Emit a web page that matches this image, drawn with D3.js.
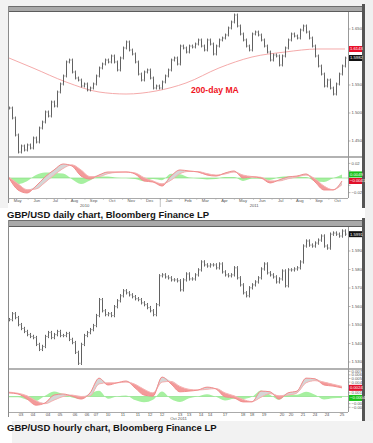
<!DOCTYPE html>
<html>
<head>
<meta charset="UTF-8">
<title>GBP/USD charts</title>
<script src="https://cdn.jsdelivr.net/npm/d3@7"></script>
<style>
  body { margin: 0; background: #fff; }
  svg { display: block; font-family: "Liberation Sans", Arial, sans-serif; }
</style>
</head>
<body>
<svg id="chart" width="373" height="443"></svg>
<script>
// ---- daily chart, May 2010 - Oct 2011 (closes read every ~5 days) ----
const dailyClose = [
  1.5089, 1.4911, 1.4607, 1.4303, 1.4411, 1.4339, 1.4429, 1.4375, 1.4554, 1.4482,
  1.4732, 1.4839, 1.5018, 1.4946, 1.5196, 1.5125, 1.5375, 1.5518, 1.5661, 1.5911,
  1.5946, 1.5732, 1.5625, 1.5589, 1.5482, 1.5518, 1.5411, 1.5446, 1.5518, 1.5661,
  1.5804, 1.5875, 1.5946, 1.5911, 1.6018, 1.5911, 1.5768, 1.5982, 1.6161, 1.6268,
  1.6125, 1.6054, 1.5911, 1.5696, 1.5589, 1.5732, 1.5768, 1.5625, 1.5446, 1.5482,
  1.5446, 1.5554, 1.5661, 1.5768, 1.5946, 1.5982, 1.5875, 1.6196, 1.6161, 1.6089,
  1.6196, 1.6179, 1.6232, 1.6304, 1.6196, 1.6125, 1.6304, 1.6232, 1.6054, 1.6196,
  1.6304, 1.6339, 1.6393, 1.6518, 1.6625, 1.6750, 1.6554, 1.6411, 1.6304, 1.6196,
  1.6125, 1.6411, 1.6446, 1.6393, 1.6304, 1.6196, 1.6089, 1.5946, 1.6036, 1.6018,
  1.5857, 1.6018, 1.6161, 1.6304, 1.6411, 1.6375, 1.6339, 1.6482, 1.6554, 1.6446,
  1.6339, 1.6196, 1.6018, 1.5839, 1.5696, 1.5482, 1.5589, 1.5446, 1.5339, 1.5518,
  1.5696, 1.5839, 1.5982
];
// 200-day moving average (index in dailyClose, value)
const dailyMaAt = [0, 8, 19, 30, 39, 49, 59, 70, 81, 92, 103, 112];
const dailyMa = [1.5982, 1.5804, 1.5554, 1.5375, 1.5339, 1.5393, 1.5536, 1.5804, 1.6000, 1.6089, 1.6143, 1.6143];
// MACD and signal, one value every 3 closes
const dailyMacd = [
  0.0000, -0.0164, -0.0205, -0.0110, 0.0014, 0.0110, 0.0192, 0.0164, 0.0027, -0.0014,
  0.0041, 0.0082, 0.0082, 0.0082, 0.0055, -0.0041, -0.0055, -0.0110, 0.0027, 0.0110,
  0.0096, 0.0082, 0.0041, 0.0027, 0.0068, 0.0096, 0.0000, 0.0014, 0.0000, -0.0068,
  -0.0027, 0.0014, 0.0027, 0.0055, -0.0055, -0.0164, -0.0164, -0.0041
];
const dailySignal = [
  0.0010, -0.0080, -0.0160, -0.0150, -0.0060, 0.0040, 0.0130, 0.0180, 0.0110, 0.0020,
  0.0020, 0.0060, 0.0078, 0.0082, 0.0070, 0.0005, -0.0040, -0.0080, -0.0030, 0.0060,
  0.0090, 0.0088, 0.0060, 0.0040, 0.0055, 0.0082, 0.0040, 0.0020, 0.0010, -0.0040,
  -0.0040, -0.0010, 0.0015, 0.0040, -0.0010, -0.0110, -0.0160, -0.0090
];
const dailyTicks = [1.65, 1.60, 1.55, 1.50, 1.45];
const dailyMacdTicks = [0.02, 0.01, 0, -0.01, -0.02];
const monthNames = ["Jan", "Feb", "Mar", "Apr", "May", "Jun", "Jul", "Aug", "Sep", "Oct", "Nov", "Dec"];

// ---- hourly chart, 3 - 25 Oct 2011 ----
const hourlyClose = [
  1.5529, 1.5561, 1.5540, 1.5502, 1.5481, 1.5465, 1.5448, 1.5438, 1.5432, 1.5395,
  1.5368, 1.5384, 1.5438, 1.5459, 1.5432, 1.5448, 1.5465, 1.5443, 1.5443, 1.5454,
  1.5422, 1.5405, 1.5352, 1.5293, 1.5395, 1.5443, 1.5459, 1.5475, 1.5497, 1.5551,
  1.5637, 1.5577, 1.5556, 1.5561, 1.5551, 1.5599, 1.5631, 1.5658, 1.5685, 1.5674,
  1.5663, 1.5653, 1.5642, 1.5637, 1.5620, 1.5610, 1.5594, 1.5577, 1.5556, 1.5610,
  1.5766, 1.5771, 1.5760, 1.5755, 1.5744, 1.5744, 1.5739, 1.5690, 1.5744, 1.5776,
  1.5749, 1.5749, 1.5771, 1.5798, 1.5841, 1.5825, 1.5819, 1.5825, 1.5825, 1.5809,
  1.5830, 1.5787, 1.5771, 1.5766, 1.5771, 1.5809, 1.5755, 1.5717, 1.5674, 1.5658,
  1.5701, 1.5717, 1.5733, 1.5755, 1.5803, 1.5830, 1.5782, 1.5771, 1.5760, 1.5733,
  1.5749, 1.5792, 1.5712, 1.5798, 1.5798, 1.5803, 1.5809, 1.5841, 1.5927, 1.5954,
  1.5932, 1.5927, 1.5943, 1.5959, 1.5981, 1.5927, 1.5916, 1.5991, 1.5997, 1.5991,
  1.5981, 1.6008, 1.5991
];
const hourlyMacd = [
  0.0010, 0.0007, -0.0007, -0.0024, -0.0018, 0.0004, 0.0007, 0.0001, -0.0007, 0.0010,
  0.0051, 0.0032, 0.0038, 0.0043, 0.0024, 0.0004, 0.0001, 0.0054, 0.0035, 0.0013,
  0.0015, 0.0018, 0.0026, 0.0021, -0.0001, -0.0004, -0.0015, -0.0015, 0.0015, 0.0013,
  -0.0007, 0.0010, 0.0015, 0.0051, 0.0049, 0.0032, 0.0029, 0.0024
];
const hourlySignal = [
  0.0012, 0.0009, 0.0002, -0.0012, -0.0020, -0.0010, 0.0000, 0.0004, 0.0000, 0.0002,
  0.0035, 0.0038, 0.0038, 0.0040, 0.0034, 0.0020, 0.0010, 0.0040, 0.0042, 0.0028,
  0.0020, 0.0018, 0.0020, 0.0022, 0.0010, 0.0002, -0.0008, -0.0014, -0.0002, 0.0008,
  0.0002, 0.0004, 0.0010, 0.0038, 0.0044, 0.0040, 0.0034, 0.0028
];
const hourlyTicks = [1.59, 1.58, 1.57, 1.56, 1.55, 1.54, 1.53];
const hourlyMacdTicks = [0.007, 0.006, 0.005, 0.004, 0.003, 0.002, 0.001, -0.001, -0.002, -0.003];
const hourLabels = ["03", "04", "04", "05", "06", "06", "07", "10", "11", "11", "12", "12", "13",
                    "13", "14", "14", "17", "18", "18", "19", "20", "20", "21", "24", "24", "25"];
const hourLabelAt = [4, 8, 13, 17, 22, 26, 29, 33, 38, 43, 47, 51, 57, 60, 64, 67, 72, 78, 81, 85, 91, 94, 98, 102, 106, 111];

const svg = d3.select("#chart");
const L = 9, R = 348, E = 362;

// page margins
svg.append("rect").attr("width", 373).attr("height", 6).attr("fill", "#f2f2f2");
svg.append("rect").attr("width", 8).attr("height", 208).attr("fill", "#f2f2f2");
svg.append("rect").attr("x", 365).attr("width", 8).attr("height", 443).attr("fill", "#f0f0f0");
svg.append("rect").attr("x", 12).attr("y", 421).attr("width", 361).attr("height", 22).attr("fill", "#f2f2f2");

function drawChart(o) {
  const g = svg.append("g");
  const x = d3.scaleLinear().domain([0, o.close.length - 1]).range([L, 345]);
  const y = d3.scaleLinear().domain(o.priceDomain).range(o.priceRange);
  const ym = d3.scaleLinear().domain(o.macdDomain).range(o.macdRange);

  // header strip
  g.append("rect").attr("x", L - 1).attr("y", o.top).attr("width", E - L + 1)
    .attr("height", o.priceTop - o.top).attr("fill", "#a9a9a9");
  g.append("line").attr("x1", L - 1).attr("x2", E).attr("y1", o.top + 0.5).attr("y2", o.top + 0.5)
    .attr("stroke", "#6d6d6d");
  g.append("line").attr("x1", L - 1).attr("x2", E).attr("y1", o.priceTop - 0.5).attr("y2", o.priceTop - 0.5)
    .attr("stroke", "#5c5c5c");
  // right dark bar and left border
  g.append("rect").attr("x", E).attr("y", o.top - 2).attr("width", 3)
    .attr("height", o.bottom - o.top + 2).attr("fill", "#555");
  g.append("line").attr("x1", L - 0.5).attr("x2", L - 0.5).attr("y1", o.top).attr("y2", o.macdBottom + 5)
    .attr("stroke", "#8a8a8a");

  // clips
  g.append("clipPath").attr("id", o.id + "-pc").append("rect")
    .attr("x", L).attr("y", o.priceTop).attr("width", R - L).attr("height", o.priceBottom - o.priceTop);
  g.append("clipPath").attr("id", o.id + "-mc").append("rect")
    .attr("x", L).attr("y", o.priceBottom).attr("width", R - L).attr("height", o.macdBottom - o.priceBottom);

  // price bars
  const pg = g.append("g").attr("clip-path", `url(#${o.id}-pc)`);
  const bars = o.close.map((c, i) => {
    const p = i ? o.close[i - 1] : c;
    return { i, c, p, hi: Math.max(p, c) + o.wick, lo: Math.min(p, c) - o.wick };
  });
  pg.selectAll("line.bar").data(bars).join("line").attr("class", "bar")
    .attr("x1", d => x(d.i) + 0.5).attr("x2", d => x(d.i) + 0.5)
    .attr("y1", d => y(d.hi)).attr("y2", d => y(d.lo))
    .attr("stroke", "#444").attr("stroke-width", 0.85);
  pg.selectAll("line.cl").data(bars).join("line").attr("class", "cl")
    .attr("x1", d => x(d.i) + 0.5).attr("x2", d => x(d.i) + 1.8)
    .attr("y1", d => y(d.c)).attr("y2", d => y(d.c))
    .attr("stroke", "#888").attr("stroke-width", 0.8);
  pg.selectAll("line.op").data(bars).join("line").attr("class", "op")
    .attr("x1", d => x(d.i) - 0.8).attr("x2", d => x(d.i) + 0.5)
    .attr("y1", d => y(d.p)).attr("y2", d => y(d.p))
    .attr("stroke", "#aaa").attr("stroke-width", 0.8);

  // MACD panel, one sample every 3 closes
  const m = o.macd.map((v, k) => ({ i: k * 3, m: v, s: o.signal[k], h: v - o.signal[k] }));
  const mg = g.append("g").attr("clip-path", `url(#${o.id}-mc)`);
  const cv = d3.curveMonotoneX;
  mg.append("path").datum(m)
    .attr("d", d3.area().curve(cv).x(d => x(d.i)).y0(ym(0)).y1(d => ym(d.h)))
    .attr("fill", "#a6f0a0");
  mg.append("line").attr("x1", L).attr("x2", R).attr("y1", ym(0)).attr("y2", ym(0))
    .attr("stroke", "#7fdc7a").attr("stroke-width", 0.6);
  mg.append("path").datum(m)
    .attr("d", d3.area().curve(cv).x(d => x(d.i)).y0(d => ym(d.s)).y1(d => ym(d.m)))
    .attr("fill", "#f39a9a");
  mg.append("path").datum(m)
    .attr("d", d3.area().curve(cv).x(d => x(d.i)).y0(d => ym(d.s)).y1(d => ym(Math.max(d.m, d.s))))
    .attr("fill", "#d6d6d6");
  mg.append("path").datum(m)
    .attr("d", d3.line().curve(cv).x(d => x(d.i)).y(d => ym(d.s)))
    .attr("fill", "none").attr("stroke", "#f6b3b3").attr("stroke-width", 1);
  mg.append("path").datum(m)
    .attr("d", d3.line().curve(cv).x(d => x(d.i)).y(d => ym(d.m)))
    .attr("fill", "none").attr("stroke", "#f28c8c").attr("stroke-width", 1);

  // frame lines
  g.append("line").attr("x1", L).attr("x2", E).attr("y1", o.priceBottom).attr("y2", o.priceBottom)
    .attr("stroke", "#666").attr("stroke-width", 1.2);
  g.append("line").attr("x1", R + 0.5).attr("x2", R + 0.5).attr("y1", o.priceTop).attr("y2", o.macdBottom)
    .attr("stroke", "#999");
  g.append("line").attr("x1", L).attr("x2", R).attr("y1", o.macdBottom + 0.5).attr("y2", o.macdBottom + 0.5)
    .attr("stroke", "#aaa");

  // value boxes on the right axis; tick labels under a box are left out
  const lm = m[m.length - 1];
  const last = o.close[o.close.length - 1];
  const boxes = [
    { v: last, sc: y, fill: "#111", fmt: d3.format(".4f") },
    { v: lm.m, sc: ym, fill: "#e0102a", fmt: d3.format(".4f") },
    { v: lm.h, sc: ym, fill: "#19c219", fmt: d3.format(".4f") }
  ].concat(o.extraBoxes ? o.extraBoxes(y) : []);
  const boxY = boxes.map(b => b.sc(b.v));

  const tick = (vals, sc, fmt) => {
    const t = g.append("g").selectAll("g").data(vals).join("g")
      .attr("transform", d => `translate(${R},${sc(d)})`);
    t.append("line").attr("x1", 0.5).attr("x2", 2.5).attr("stroke", "#888").attr("stroke-width", 0.6);
    t.filter(d => boxY.every(b => Math.abs(sc(d) - b) > 4.5))
      .append("text").attr("x", 3.5).attr("dy", "0.35em").attr("font-size", 4.2)
      .attr("fill", "#555").text(fmt);
  };
  tick(o.priceTicks, y, d3.format(".4f"));
  tick(o.macdTicks, ym, o.macdFmt);

  boxes.forEach(b => {
    const yy = b.sc(b.v);
    g.append("rect").attr("x", R + 1).attr("y", yy - 3).attr("width", E - R - 1).attr("height", 6)
      .attr("fill", b.fill);
    g.append("text").attr("x", R + 2).attr("y", yy).attr("dy", "0.35em").attr("font-size", 4.2)
      .attr("fill", "#fff").text(b.fmt(b.v));
  });
  return { g, x, y, ym };
}

// ---------- daily ----------
const daily = drawChart({
  id: "d", top: 6, priceTop: 12, priceBottom: 157, macdBottom: 198, bottom: 208,
  close: dailyClose, macd: dailyMacd, signal: dailySignal, wick: 0.0025,
  priceDomain: [1.65, 1.45], priceRange: [29, 141],
  macdDomain: [0.02, -0.02], macdRange: [163.4, 192.6],
  priceTicks: dailyTicks, macdTicks: dailyMacdTicks, macdFmt: d3.format(".2f"),
  extraBoxes: y => [{ v: dailyMa[dailyMa.length - 1], sc: y, fill: "#e8102a", fmt: d3.format(".4f") }]
});
{
  const { g, x, y } = daily;
  g.insert("path", "clipPath").datum(dailyMa.map((v, k) => [dailyMaAt[k], v]))
    .attr("d", d3.line().curve(d3.curveMonotoneX).x(d => x(d[0])).y(d => y(d[1])))
    .attr("fill", "none").attr("stroke", "#f3a0a0").attr("stroke-width", 0.9);
  g.append("text").attr("x", 191).attr("y", 93).attr("font-size", 8.6).attr("font-weight", "bold")
    .attr("fill", "#f0141e").text("200-day MA");

  // month axis
  const t = d3.scaleTime().domain([new Date(2010, 4, 1), new Date(2011, 10, 1)]).range([L, R]);
  const months = d3.timeMonth.range(new Date(2010, 4, 1), new Date(2011, 10, 1));
  g.selectAll("text.mo").data(months).join("text").attr("class", "mo")
    .attr("x", d => t(d3.timeDay.offset(d, 14))).attr("y", 202).attr("text-anchor", "middle")
    .attr("font-size", 4.2).attr("fill", "#555").text(d => monthNames[d.getMonth()]);
  g.selectAll("line.mt").data(months).join("line").attr("class", "mt")
    .attr("x1", d => t(d)).attr("x2", d => t(d)).attr("y1", 198).attr("y2", 200)
    .attr("stroke", "#aaa").attr("stroke-width", 0.5);
  const y2011 = t(new Date(2011, 0, 1));
  g.append("line").attr("x1", y2011).attr("x2", y2011).attr("y1", 198).attr("y2", 207)
    .attr("stroke", "#999").attr("stroke-width", 0.6);
  g.append("text").attr("x", (L + y2011) / 2).attr("y", 206.5).attr("text-anchor", "middle")
    .attr("font-size", 4.2).attr("fill", "#555").text("2010");
  g.append("text").attr("x", (y2011 + R) / 2).attr("y", 206.5).attr("text-anchor", "middle")
    .attr("font-size", 4.2).attr("fill", "#555").text("2011");
}

// ---------- hourly ----------
const hourly = drawChart({
  id: "h", top: 220, priceTop: 227, priceBottom: 369, macdBottom: 412, bottom: 421,
  close: hourlyClose, macd: hourlyMacd, signal: hourlySignal, wick: 0.0009,
  priceDomain: [1.59, 1.53], priceRange: [251, 362],
  macdDomain: [0.006, -0.003], macdRange: [374.9, 407.3],
  priceTicks: hourlyTicks, macdTicks: hourlyMacdTicks, macdFmt: d3.format(".3f")
});
{
  const { g, x } = hourly;
  g.selectAll("text.hr").data(hourLabels).join("text").attr("class", "hr")
    .attr("x", (d, i) => x(hourLabelAt[i])).attr("y", 416).attr("text-anchor", "middle")
    .attr("font-size", 4.2).attr("fill", "#555").text(d => d);
  g.selectAll("line.ht").data(hourLabelAt).join("line").attr("class", "ht")
    .attr("x1", d => x(d)).attr("x2", d => x(d)).attr("y1", 412).attr("y2", 414)
    .attr("stroke", "#aaa").attr("stroke-width", 0.5);
  g.append("text").attr("x", (L + R) / 2).attr("y", 420).attr("text-anchor", "middle")
    .attr("font-size", 4.2).attr("fill", "#555").text("Oct 2011");
}

// captions
svg.append("text").attr("x", 7).attr("y", 217.5).attr("font-size", 9.5).attr("font-weight", "bold")
  .attr("fill", "#141414").text("GBP/USD daily chart, Bloomberg Finance LP");
svg.append("text").attr("x", 7).attr("y", 431).attr("font-size", 9.5).attr("font-weight", "bold")
  .attr("fill", "#141414").text("GBP/USD hourly chart, Bloomberg Finance LP");
</script>
</body>
</html>
